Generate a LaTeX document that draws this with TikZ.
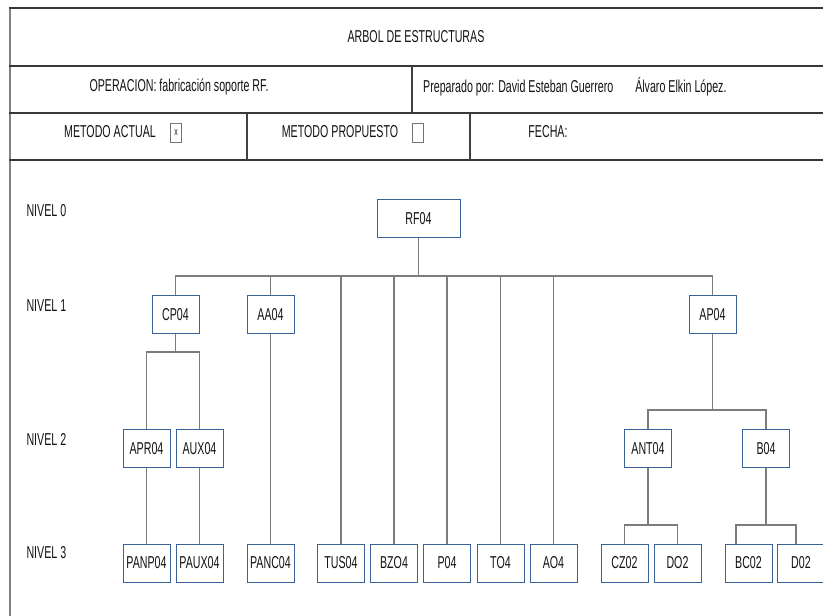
\documentclass[tikz,border=0pt]{standalone}
\usepackage{fontspec}
\setmainfont{Liberation Sans}[FakeStretch=0.62]
\begin{document}
\begin{tikzpicture}[x=1pt,y=-1pt,
  every node/.style={font=\fontsize{17.2}{19}\selectfont, text=black!92},
  part/.style={draw=boxblue, line width=1pt, fill=white, inner sep=0pt,
    minimum width=47pt, minimum height=38pt},
  link/.style={draw=linkgray, line width=1.2pt},
  rule/.style={draw=black!78, line width=2pt},
  divider/.style={draw=black!75, line width=1.1pt},
  checkbox/.style={draw=black!55, line width=0.9pt, fill=white, inner sep=0pt,
    minimum width=11pt, minimum height=19pt},
  level/.style={anchor=west}]
\definecolor{boxblue}{HTML}{3A6296}
\definecolor{linkgray}{HTML}{7C7C7C}
\useasboundingbox (0,0) rectangle (823,616);
\fill[white] (0,0) rectangle (823,616);

% form header
\draw[draw=black!50, line width=1.5pt] (10,8) -- (10,616);
\draw[rule] (9,8) -- (823,8);
\draw[rule] (9,66) -- (823,66);
\draw[rule] (9,113) -- (823,113);
\draw[rule] (9,160) -- (823,160);
\draw[divider] (412,66) -- (412,113);
\draw[divider] (247,113) -- (247,160);
\draw[divider] (470,113) -- (470,160);

\node (title) at (416,37) {ARBOL DE ESTRUCTURAS};
\node (oper) at (179,87) {OPERACION: fabricación soporte RF.};
\node[anchor=west, inner sep=0pt] (prep) at (423,87)
  {Preparado por: David Esteban Guerrero\hspace{22pt}Álvaro Elkin López.};
\node (actual) at (110,132) {METODO ACTUAL};
\node[checkbox, font=\fontsize{11}{12}\selectfont] (chkA) at (176,133) {x};
\node (prop) at (340,132) {METODO PROPUESTO};
\node[checkbox] (chkP) at (418,133) {};
\node (fecha) at (548,132) {FECHA:};

% level labels
\node[level] (n0) at (23,211) {NIVEL 0};
\node[level] (n1) at (23,306) {NIVEL 1};
\node[level] (n2) at (23,439) {NIVEL 2};
\node[level] (n3) at (23,553) {NIVEL 3};

% level 0
\node[part, minimum width=83pt] (rf04) at (418.5,218.5) {RF04};
% level 1
\node[part] (cp04) at (175.5,314.5) {CP04};
\node[part] (aa04) at (270.5,314.5) {AA04};
\node[part] (ap04) at (712.5,314.5) {AP04};
% level 2
\node[part] (apr04) at (146.5,448.5) {APR04};
\node[part] (aux04) at (199.5,448.5) {AUX04};
\node[part] (ant04) at (648,448.5) {ANT04};
\node[part] (b04) at (766,448.5) {B04};
% level 3
\node[part] (panp04) at (146.5,563) {PANP04};
\node[part] (paux04) at (199.5,563) {PAUX04};
\node[part] (panc04) at (270.5,563) {PANC04};
\node[part] (tus04) at (341,563) {TUS04};
\node[part] (bzo4) at (394,563) {BZO4};
\node[part] (p04) at (447,563) {P04};
\node[part] (to4) at (500.5,563) {TO4};
\node[part] (ao4) at (553.5,563) {AO4};
\node[part] (cz02) at (624.5,563) {CZ02};
\node[part] (do2) at (677.5,563) {DO2};
\node[part] (bc02) at (748.5,563) {BC02};
\node[part] (d02) at (801,563) {D02};

% junction points of the branches
\coordinate (bus1) at (418.5,276);
\coordinate (cpj) at (175.5,352);
\coordinate (apj) at (712.5,410);
\coordinate (antj) at (648,525);
\coordinate (bj) at (766,525);

% RF04 branch
\draw[link] (rf04.south) -- (bus1);
\draw[link] (cp04.north) |- (bus1) -| (ap04.north);
\draw[link] (aa04.north) -- (aa04.north |- bus1);
\draw[link] (tus04.north) -- (tus04.north |- bus1);
\draw[link] (bzo4.north) -- (bzo4.north |- bus1);
\draw[link] (p04.north) -- (p04.north |- bus1);
\draw[link] (to4.north) -- (to4.north |- bus1);
\draw[link] (ao4.north) -- (ao4.north |- bus1);

% CP04 branch
\draw[link] (cp04.south) -- (cpj);
\draw[link] (apr04.north) |- (cpj) -| (aux04.north);
\draw[link] (apr04.south) -- (panp04.north);
\draw[link] (aux04.south) -- (paux04.north);

% AA04 branch
\draw[link] (aa04.south) -- (panc04.north);

% AP04 branch
\draw[link] (ap04.south) -- (apj);
\draw[link] (ant04.north) |- (apj) -| (b04.north);
\draw[link] (ant04.south) -- (antj);
\draw[link] (cz02.north) |- (antj) -| (do2.north);
\draw[link] (b04.south) -- (bj);
\draw[link] ([xshift=-12.5pt]bc02.north) |- (bj) -| ([xshift=-5pt]d02.north);
\end{tikzpicture}
\end{document}
